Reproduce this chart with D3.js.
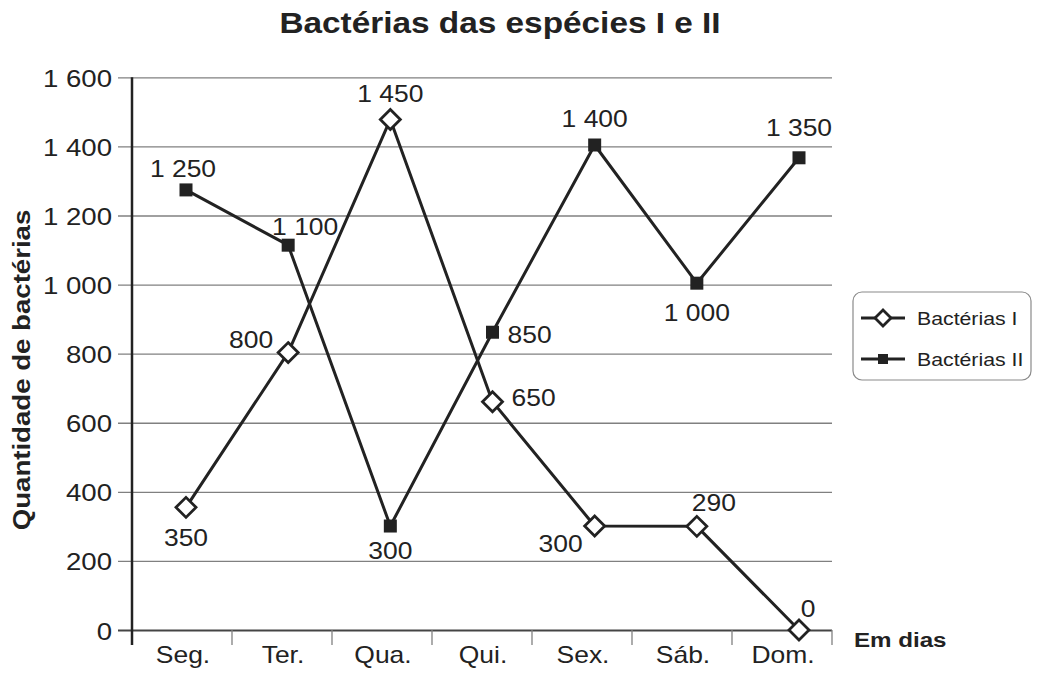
<!DOCTYPE html>
<html>
<head>
<meta charset="utf-8">
<script src="https://cdn.jsdelivr.net/npm/d3@7"></script>
<style>
  body { margin: 0; background: #fff; }
  svg text { font-family: "Liberation Sans", Arial, sans-serif; fill: #222; }
</style>
</head>
<body>
<script>
// data
var days = ["Seg.", "Ter.", "Qua.", "Qui.", "Sex.", "Sáb.", "Dom."];
var bactI = [355, 803, 1478, 661, 301, 300, 0];          // plotted heights
var bactII = [1274, 1114, 301, 862, 1404, 1004, 1367];
var labelsI = [350, 800, 1450, 650, 300, 290, 0];        // printed values
var labelsII = [1250, 1100, 300, 850, 1400, 1000, 1350];
var yTicks = [0, 200, 400, 600, 800, 1000, 1200, 1400, 1600];
var seriesNames = ["Bactérias I", "Bactérias II"];

// label placement (anchor, dx, dy) per point
var placeI = [["middle", 0, 39], ["end", -15, -5], ["middle", 0, -17], ["start", 19, 4],
              ["end", -12, 26], ["middle", 17, -15], ["middle", 9, -13]];
var placeII = [["middle", -3, -13], ["middle", 17, -10], ["middle", 0, 33], ["start", 15, 11],
               ["middle", 0, -18], ["middle", 0, 38], ["middle", 0, -22]];

var W = 1038, H = 676, SX = 1.15;
var ink = "#222";

var svg = d3.select("body").append("svg")
  .attr("width", W)
  .attr("height", H);

var fmt = d3.formatLocale({decimal: ",", thousands: " ", grouping: [3], currency: ["", ""]}).format(",d");

var y = d3.scaleLinear().domain([0, 1600]).range([630, 77.3]);
var xBand = d3.scaleBand().domain(days).range([132, 832]);
var xPt = d3.scalePoint().domain(days).range([186, 799]);

// text with the slightly wide lettering of the original
function txt(sel, x, yy, s, size, anchor, bold, rot) {
  return sel.append("text")
    .attr("transform", "translate(" + x + "," + yy + ")" + (rot ? " rotate(" + rot + ")" : "") + " scale(" + SX + ",1)")
    .attr("text-anchor", anchor || "middle")
    .attr("font-size", size)
    .attr("font-weight", bold ? "bold" : null)
    .text(s);
}

// title
txt(svg, 500, 33, "Bactérias das espécies I e II", 29, "middle", true);

// y axis + grid
var yAxis = svg.append("g")
  .attr("transform", "translate(118,0)")
  .call(d3.axisLeft(y).tickValues(yTicks).tickFormat(fmt).tickSize(-(832 - 118)).tickPadding(6));
yAxis.select(".domain").remove();
yAxis.selectAll(".tick line")
  .attr("stroke", function(d) { return d === 0 ? "#444" : "#808080"; })
  .attr("stroke-width", function(d) { return d === 0 ? 1.8 : 1.3; });
yAxis.selectAll(".tick text")
  .attr("x", null).attr("dy", null)
  .attr("transform", "translate(-6,9) scale(" + SX + ",1)")
  .attr("font-size", 24)
  .attr("font-family", null)
  .attr("fill", ink);

svg.append("line")
  .attr("x1", 132).attr("x2", 132)
  .attr("y1", y(1600)).attr("y2", 645)
  .attr("stroke", ink).attr("stroke-width", 2.5);

// x axis: ticks between days, labels centred in the bands
var xAxis = svg.append("g");
xAxis.selectAll("line.sep")
  .data(days)
  .join("line")
  .attr("class", "sep")
  .attr("x1", function(d) { return xBand(d) + xBand.bandwidth(); })
  .attr("x2", function(d) { return xBand(d) + xBand.bandwidth(); })
  .attr("y1", 630).attr("y2", 645)
  .attr("stroke", "#808080").attr("stroke-width", 1.3);
days.forEach(function(d) {
  txt(xAxis, xBand(d) + xBand.bandwidth() / 2 + 1, 663, d, 23);
});

txt(svg, 854, 647, "Em dias", 21, "start", true);
txt(svg, 30, 370, "Quantidade de bactérias", 24, "middle", true, -90);

// lines
var line = d3.line()
  .x(function(d, i) { return xPt(days[i]); })
  .y(function(d) { return y(d); });

[bactI, bactII].forEach(function(s) {
  svg.append("path")
    .datum(s)
    .attr("d", line)
    .attr("fill", "none")
    .attr("stroke", ink)
    .attr("stroke-width", 3)
    .attr("stroke-linejoin", "round");
});

// markers
function diamond(sel, cx, cy, r) {
  sel.append("path")
    .attr("d", "M" + cx + "," + (cy - r) + "L" + (cx + r) + "," + cy + "L" + cx + "," + (cy + r) + "L" + (cx - r) + "," + cy + "Z")
    .attr("fill", "#fff").attr("stroke", ink).attr("stroke-width", 2.8);
}
function square(sel, cx, cy, s) {
  sel.append("rect")
    .attr("x", cx - s / 2).attr("y", cy - s / 2)
    .attr("width", s).attr("height", s)
    .attr("fill", ink);
}

var marks = svg.append("g");
bactII.forEach(function(v, i) { square(marks, xPt(days[i]), y(v), 13); });
bactI.forEach(function(v, i) { diamond(marks, xPt(days[i]), y(v), 10); });

// value labels
var vals = svg.append("g");
bactI.forEach(function(v, i) {
  var p = placeI[i];
  txt(vals, xPt(days[i]) + p[1], y(v) + p[2], fmt(labelsI[i]), 23, p[0]);
});
bactII.forEach(function(v, i) {
  var p = placeII[i];
  txt(vals, xPt(days[i]) + p[1], y(v) + p[2], fmt(labelsII[i]), 23, p[0]);
});

// legend
var leg = svg.append("g");
leg.append("rect")
  .attr("x", 853).attr("y", 292)
  .attr("width", 178).attr("height", 88)
  .attr("rx", 9)
  .attr("fill", "#fff").attr("stroke", "#8a8a8a").attr("stroke-width", 1.2);
seriesNames.forEach(function(n, i) {
  var ly = 318 + i * 41;
  leg.append("line")
    .attr("x1", 861).attr("x2", 905)
    .attr("y1", ly).attr("y2", ly)
    .attr("stroke", ink).attr("stroke-width", 3);
  if (i === 0) diamond(leg, 883, ly, 8);
  else square(leg, 883, ly, 10);
  txt(leg, 917, ly + 7, n, 18.5, "start");
});
</script>
</body>
</html>
